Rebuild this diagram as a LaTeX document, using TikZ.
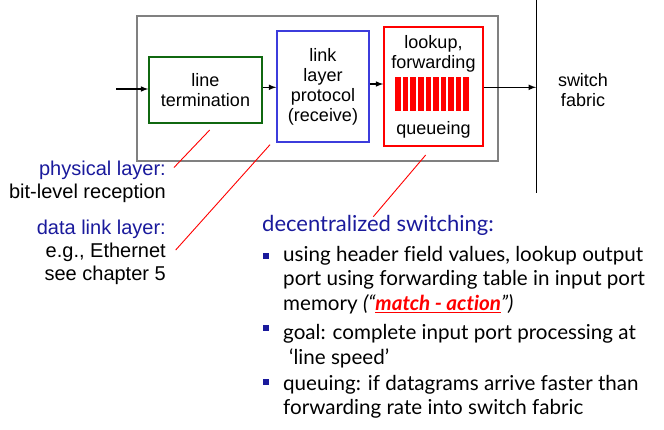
\documentclass[tikz,border=0pt]{standalone}
\usepackage{fontspec}
\setmainfont{Liberation Sans}
\newfontfamily\gill[Ligatures=NoCommon]{Lato}
\usetikzlibrary{positioning}
\definecolor{navy}{RGB}{26,26,156}
\definecolor{termgreen}{RGB}{16,104,16}
\definecolor{protoblue}{RGB}{60,60,220}
\definecolor{queuered}{RGB}{255,0,0}
\definecolor{framegray}{RGB}{128,128,128}
\tikzset{
  stage/.style={draw, line width=1.6pt, align=center, inner sep=0pt,
    font=\fontsize{18}{20}\selectfont},
  boxtext/.style={align=center, inner sep=0pt, font=\fontsize{18}{20}\selectfont},
  flow/.style={line width=1.5pt, -latex},
  leader/.style={draw=queuered, line width=0.9pt},
  sidetext/.style={align=right, inner sep=0pt, font=\fontsize{20}{23}\selectfont},
  pointtext/.style={align=left, inner sep=0pt, font=\gill\fontsize{20.6}{24.5}\selectfont},
  dot/.style={fill=navy, inner sep=0pt, minimum size=6pt}
}
\begin{document}
\begin{tikzpicture}[x=1pt, y=-1pt]
  \useasboundingbox (0,0) rectangle (664,429);
  \draw[framegray, line width=1.2pt] (137,16) rectangle (498,161);
  \node[stage, draw=termgreen, minimum width=113pt, minimum height=66pt] (lt) at (205.5,90) {line\\termination};
  \node[stage, draw=protoblue, minimum width=92pt, minimum height=111pt] (lp) at (323,86.5) {link\\layer\\protocol\\(receive)};
  \node[stage, draw=queuered, minimum width=99pt, minimum height=119pt] (lf) at (433.5,86.5) {};
  \node[boxtext] (lk) at (433.5,54) {lookup,\\forwarding};
  \node[boxtext] (qu) at (433.5,130) {queueing};
  \foreach \i in {0,...,9}
    \fill[queuered] ({395.3+7.57*\i},77.3) rectangle +(5.6,33.4);
  \node[boxtext] (sf) at (583,90) {switch\\fabric};
  \coordinate (in) at (116,89);
  \coordinate (ft) at (536,0);
  \coordinate (fb) at (536,193);
  \draw[line width=1pt] (ft) -- (fb);
  \draw[flow] (in) -- (lt.west |- in);
  \draw[flow] (lt.east |- 0,87.3) -- (lp.west |- 0,87.3);
  \draw[flow] (lp.east |- 0,84) -- (lf.west |- 0,84);
  \draw[flow] (lf.east |- 0,87.3) -- (ft |- 0,87.3);

  \node[sidetext, anchor=east] (ph) at (166,182) {\textcolor{navy}{physical layer:}\\bit-level reception};
  \node[sidetext, anchor=east] (dl) at (166,252) {\textcolor{navy}{data link layer:}\\e.g., Ethernet\\see chapter 5};
  \coordinate (pe) at (174,167.5);
  \coordinate (de) at (175.7,250);
  \coordinate (se) at (373.3,216.7);
  \draw[leader] (209.7,130) -- (pe);
  \draw[leader] (270,144.7) -- (de);
  \draw[leader] (425.7,155) -- (se);

  \node[anchor=west, inner sep=0pt, text=navy, font=\gill\fontsize{22}{26}\selectfont] (ds) at (262,225) {decentralized switching:};
  \node[pointtext, anchor=west] (b1) at (283,280) {using header field values, lookup output\\port using forwarding table in input port\\memory \textit{(“\textbf{\textcolor{queuered}{\underline{match - action}}}”)}};
  \node[pointtext, anchor=west] (b2) at (283,346) {goal: complete input port processing at\\\hspace*{6pt}‘line speed’};
  \node[pointtext, anchor=west] (b3) at (283,397) {queuing: if datagrams arrive faster than\\forwarding rate into switch fabric};
  \node[dot] (d1) at (265.5,255.5) {};
  \node[dot] (d2) at (265.5,328) {};
  \node[dot] (d3) at (265.5,381.7) {};
\end{tikzpicture}
\end{document}
